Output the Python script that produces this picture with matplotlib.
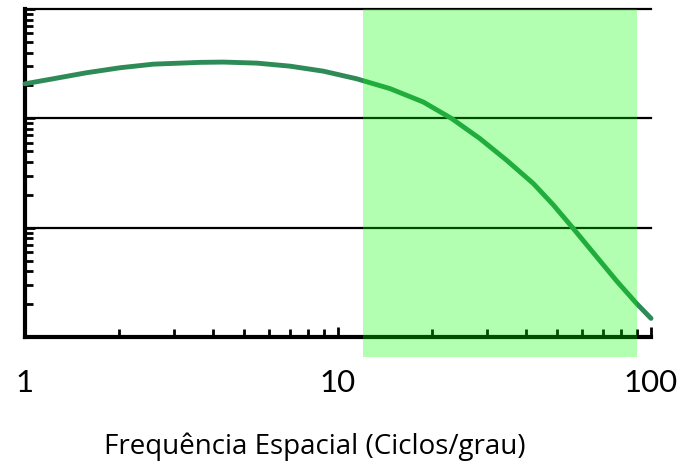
import matplotlib.pyplot as plt
import numpy as np
from matplotlib.ticker import LogLocator, NullFormatter, FixedLocator

plt.rcParams['font.family'] = ['Lato', 'DejaVu Sans']

# Contrast sensitivity curve
freq = [1.0, 1.23, 1.57, 2.01, 2.57, 3.62, 4.30, 5.50, 7.03, 8.98, 11.47,
        14.66, 18.73, 23.1, 28.4, 34.6, 42.1, 48.7, 56.5, 65.4, 77.7, 90.0, 100.0]
sens = [207, 230, 261, 290, 313, 325, 327, 320, 300, 270, 230,
        187, 141, 99.4, 65.3, 41.3, 25.3, 16.2, 9.8, 5.9, 3.25, 2.02, 1.48]

band_lo = 12
band_hi = 90
grid_levels = [10, 100, 1000]
x_ticks = [1, 10, 100]
x_labels = ["1", "10", "100"]

fig = plt.figure(figsize=(6.84, 4.62), dpi=100)
ax = fig.add_axes([25 / 684, 1 - 337 / 462, 626 / 684, 328 / 462])

ax.plot(freq, sens, color='seagreen', lw=3.5, solid_capstyle='round',
        solid_joinstyle='round', zorder=3, clip_on=False)

ax.set_xscale('log')
ax.set_yscale('log')
ax.set_xlim(1, 100)
ax.set_ylim(1, 1000)

for yv in grid_levels:
    ax.axhline(yv, color='black', lw=1.6, zorder=2, clip_on=False)

# band sits on top with transparency, runs a bit below the axis
ax.axvspan(band_lo, band_hi, ymin=-20 / 328, ymax=1, color='lime', alpha=0.3,
           lw=0, zorder=5, clip_on=False)

ax.spines['top'].set_visible(False)
ax.spines['right'].set_visible(False)
ax.spines['left'].set_linewidth(3)
ax.spines['bottom'].set_linewidth(3)

ax.xaxis.set_major_locator(FixedLocator(x_ticks))
ax.set_xticklabels(x_labels)
ax.xaxis.set_minor_locator(LogLocator(base=10, subs=np.arange(2, 10)))
ax.xaxis.set_minor_formatter(NullFormatter())
ax.yaxis.set_major_locator(FixedLocator([1, 10, 100, 1000]))
ax.yaxis.set_minor_locator(LogLocator(base=10, subs=np.arange(2, 10)))
ax.yaxis.set_minor_formatter(NullFormatter())
ax.set_yticklabels([])

ax.tick_params(axis='both', which='both', direction='in', color='black')
ax.tick_params(axis='both', which='major', length=7, width=2)
ax.tick_params(axis='both', which='minor', length=6, width=2)
ax.tick_params(axis='x', which='major', labelsize=22.5, pad=23)

fig.text(315 / 684, 1 - 454 / 462, "Frequência Espacial (Ciclos/grau)",
         ha='center', va='baseline', fontsize=20, family=['Open Sans', 'DejaVu Sans'])

fig.savefig('out.png', dpi=100)
